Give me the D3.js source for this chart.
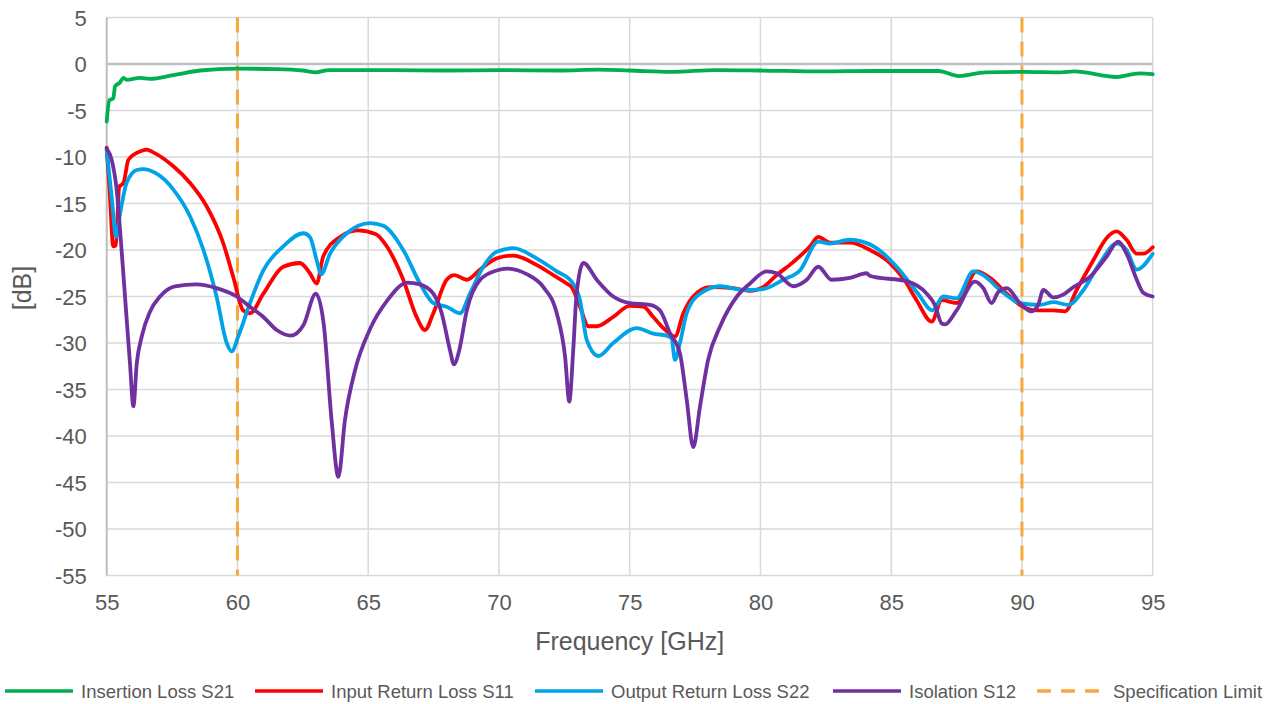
<!DOCTYPE html>
<html><head><meta charset="utf-8">
<script src="https://cdn.jsdelivr.net/npm/d3@7"></script>
<style>
html,body{margin:0;padding:0;background:#fff;}
svg text{font-family:"Liberation Sans",Arial,Helvetica,sans-serif;fill:#595959;}
</style></head>
<body>
<svg id="chart" width="1278" height="704"></svg>
<script>
// ---------- data ----------
const xTicks = [55,60,65,70,75,80,85,90,95];
const yTicks = [5,0,-5,-10,-15,-20,-25,-30,-35,-40,-45,-50,-55];
const specLimits = [60, 90];

const s21Freq = [55.0,55.1,55.25,55.32,55.5,55.64,55.76,56.27,56.65,57.55,58.57,60.0,61.5,62.5,63.0,63.5,65.8,68.0,70.0,72.3,73.8,75.0,76.6,78.3,80.0,82.4,84.2,86.8,87.6,88.6,90.1,91.5,92.0,93.6,94.5,95.0];
const s21Vals = [-6.2,-3.9,-3.7,-2.4,-2.0,-1.5,-1.7,-1.5,-1.6,-1.2,-0.7,-0.5,-0.55,-0.7,-0.9,-0.65,-0.65,-0.7,-0.65,-0.7,-0.6,-0.7,-0.85,-0.65,-0.7,-0.8,-0.75,-0.75,-1.3,-0.9,-0.85,-0.9,-0.8,-1.4,-1.0,-1.1];

const s11Freq = [55.0,55.12,55.25,55.35,55.48,55.64,55.83,56.27,56.53,56.78,57.55,58.19,58.82,59.46,59.84,60.22,60.48,60.99,61.75,62.39,62.77,63.03,63.28,63.92,64.6,65.3,65.71,66.34,66.85,67.17,67.49,68.0,68.3,68.77,69.28,69.91,70.55,71.44,72.08,72.59,72.78,73.1,73.42,73.73,74.37,75.0,75.52,75.9,76.29,76.73,77.05,77.43,78.07,78.96,79.6,80.1,80.62,81.25,81.9,82.21,82.66,83.42,84.19,84.95,85.5,85.97,86.55,86.93,87.5,88.27,88.78,89.42,89.92,90.56,91.2,91.65,92.09,92.73,93.24,93.62,94.0,94.39,94.64,95.0];
const s11Vals = [-9.0,-14.0,-19.6,-19.5,-13.2,-12.8,-10.3,-9.4,-9.2,-9.5,-11.0,-12.8,-15.3,-19.3,-22.9,-26.5,-26.8,-24.7,-21.8,-21.4,-22.5,-23.6,-20.7,-18.6,-17.9,-18.3,-19.6,-23.2,-27.2,-28.6,-26.8,-23.2,-22.7,-23.2,-22.1,-20.9,-20.6,-21.6,-22.7,-23.6,-24.0,-26.1,-28.2,-28.2,-27.2,-26.0,-26.1,-27.2,-28.4,-29.3,-26.8,-25.0,-24.0,-24.1,-24.4,-24.0,-22.7,-21.3,-19.6,-18.6,-19.2,-19.2,-20.0,-21.4,-23.2,-25.4,-27.7,-25.4,-25.7,-22.3,-23.0,-24.7,-25.9,-26.5,-26.5,-26.6,-24.3,-21.1,-18.7,-18.0,-18.9,-20.4,-20.4,-19.7];

const s22Freq = [55.0,55.19,55.36,55.51,55.76,56.15,56.4,56.91,57.55,58.19,58.7,59.2,59.59,59.78,60.03,60.48,60.99,61.75,62.52,62.77,63.03,63.2,63.54,64.18,65.07,65.58,66.34,66.98,67.49,68.0,68.51,68.89,69.4,69.91,70.55,71.44,72.21,72.78,73.1,73.36,73.8,74.37,75.27,75.9,76.41,76.6,76.73,76.92,77.18,77.69,78.46,79.35,80.1,80.87,81.51,82.21,82.66,83.42,84.32,85.21,86.0,86.58,86.99,87.5,88.14,88.52,89.16,89.92,90.69,91.2,91.77,92.35,92.98,93.62,94.0,94.39,95.0];
const s22Vals = [-9.3,-14.3,-18.6,-16.1,-12.8,-11.4,-11.3,-11.8,-13.5,-16.4,-20.0,-25.0,-30.0,-30.9,-29.3,-25.7,-22.2,-19.6,-18.2,-18.6,-21.1,-22.6,-20.4,-18.2,-17.1,-17.4,-20.0,-23.6,-25.7,-26.1,-26.8,-24.7,-21.8,-20.2,-19.8,-20.9,-22.3,-23.4,-25.4,-29.7,-31.4,-30.0,-28.4,-29.0,-29.2,-29.5,-31.8,-30.0,-26.8,-24.7,-23.9,-24.3,-24.2,-23.2,-22.2,-19.1,-19.3,-18.9,-19.6,-21.8,-24.6,-26.5,-25.0,-25.2,-22.3,-22.7,-24.3,-25.7,-25.9,-25.6,-25.9,-24.3,-21.4,-19.3,-20.0,-22.1,-20.4];

const s12Freq = [55.0,55.19,55.38,55.51,55.7,55.89,56.02,56.15,56.34,56.66,57.04,57.61,58.44,59.2,59.97,60.48,60.99,61.5,62.05,62.52,63.0,63.3,63.6,63.86,64.11,64.5,65.07,65.71,66.5,66.98,67.49,67.81,68.13,68.28,68.48,68.77,69.28,69.91,70.3,71.06,71.7,72.21,72.53,72.69,72.84,72.97,73.23,73.74,74.37,75.0,75.78,76.16,76.55,76.92,77.18,77.43,77.69,78.0,78.46,79.1,79.6,80.24,80.62,81.25,81.77,82.21,82.72,83.42,84.06,84.2,84.57,85.5,86.36,86.67,86.93,87.06,87.5,88.2,88.52,88.84,89.1,89.42,89.92,90.37,90.62,90.82,91.2,91.58,91.96,92.6,93.24,93.68,94.0,94.39,94.64,95.0];
const s12Vals = [-9.1,-10.3,-13.5,-17.8,-25.0,-32.2,-36.8,-32.2,-29.3,-26.6,-25.0,-23.9,-23.7,-24.1,-25.0,-26.1,-27.2,-28.6,-29.2,-28.1,-24.7,-28.0,-38.3,-44.4,-38.3,-32.9,-28.5,-25.5,-23.5,-23.7,-24.7,-26.8,-30.8,-32.3,-30.8,-26.5,-23.2,-22.2,-22.0,-22.6,-24.0,-26.8,-31.5,-36.3,-30.8,-24.7,-21.4,-23.2,-25.0,-25.7,-25.9,-26.5,-29.0,-31.1,-36.1,-41.2,-36.8,-31.8,-28.2,-25.0,-23.6,-22.3,-22.5,-23.9,-23.2,-21.8,-23.2,-23.0,-22.5,-22.8,-23.0,-23.3,-24.7,-25.9,-27.9,-28.0,-26.5,-23.4,-24.1,-25.7,-24.5,-24.1,-25.7,-26.6,-25.9,-24.3,-25.1,-24.8,-24.0,-22.9,-20.7,-19.1,-20.4,-23.2,-24.6,-25.0];

const seriesNames = ["Insertion Loss S21","Input Return Loss S11","Output Return Loss S22","Isolation S12","Specification Limit"];
const seriesColors = ["#00b050","#ff0000","#00a2e8","#7030a0","#f6a83c"];

// ---------- layout ----------
const svg = d3.select("#chart");
const L = 106.7, R = 1152.7, T = 17.5, B = 575.5;
const x = d3.scaleLinear().domain([55,95]).range([L,R]);
const y = d3.scaleLinear().domain([-55,5]).range([B,T]);

// grid
const grid = svg.append("g");
grid.selectAll("line.v").data(xTicks).join("line")
  .attr("x1",d=>x(d)).attr("x2",d=>x(d)).attr("y1",T).attr("y2",B)
  .attr("stroke","#d9d9d9").attr("stroke-width",1.5);
grid.selectAll("line.h").data(yTicks).join("line")
  .attr("x1",L).attr("x2",R).attr("y1",d=>y(d)).attr("y2",d=>y(d))
  .attr("stroke",d=>d===0?"#bfbfbf":"#d9d9d9").attr("stroke-width",d=>d===0?2.5:1.5);
// left axis line
svg.append("line").attr("x1",L).attr("x2",L).attr("y1",T).attr("y2",B)
  .attr("stroke","#bfbfbf").attr("stroke-width",2);

// axes labels via d3 axes (plain hyphen-minus, as in the reference)
const fmt = d => String(d);
const yAxis = svg.append("g").attr("transform",`translate(${L},0)`)
  .call(d3.axisLeft(y).tickValues(yTicks).tickSize(0).tickPadding(20).tickFormat(fmt));
yAxis.select(".domain").remove();
yAxis.selectAll("text").style("font-size","22px").attr("fill","#595959").attr("dy","0.36em");

const xAxis = svg.append("g").attr("transform",`translate(0,${B})`)
  .call(d3.axisBottom(x).tickValues(xTicks).tickSize(0).tickPadding(19).tickFormat(fmt));
xAxis.select(".domain").remove();
xAxis.selectAll("text").style("font-size","22px").attr("fill","#595959");

svg.append("text").attr("x",(L+R)/2).attr("y",650).attr("text-anchor","middle")
  .style("font-size","25px").text("Frequency [GHz]");
svg.append("text").attr("transform","translate(31,288) rotate(-90)").attr("text-anchor","middle")
  .style("font-size","25px").text("[dB]");

// spec limits
svg.selectAll("line.spec").data(specLimits).join("line")
  .attr("x1",d=>x(d)).attr("x2",d=>x(d)).attr("y1",T).attr("y2",B)
  .attr("stroke",seriesColors[4]).attr("stroke-width",3).attr("stroke-dasharray","15,9");

// series
const line = d3.line().x(d=>x(d[0])).y(d=>y(d[1])).curve(d3.curveMonotoneX);
const series = [
  {f:s21Freq,v:s21Vals,c:seriesColors[0]},
  {f:s11Freq,v:s11Vals,c:seriesColors[1]},
  {f:s22Freq,v:s22Vals,c:seriesColors[2]},
  {f:s12Freq,v:s12Vals,c:seriesColors[3]}
];
series.forEach(s=>{
  svg.append("path").datum(s.f.map((f,i)=>[f,s.v[i]]))
    .attr("d",line).attr("fill","none").attr("stroke",s.c)
    .attr("stroke-width",3.8).attr("stroke-linejoin","round").attr("stroke-linecap","round");
});

// legend
const legX = [5,255,535,833,1037];
const legY = 691;
const leg = svg.append("g");
seriesNames.forEach((n,i)=>{
  const g = leg.append("g").attr("transform",`translate(${legX[i]},${legY})`);
  g.append("line").attr("x1",0).attr("x2",68).attr("y1",0).attr("y2",0)
    .attr("stroke",seriesColors[i]).attr("stroke-width",3.5)
    .attr("stroke-dasharray", i===4 ? "14,10" : null);
  g.append("text").attr("x",76).attr("y",0).attr("dy","0.36em").style("font-size","18.5px").text(n);
});
</script>
</body></html>
